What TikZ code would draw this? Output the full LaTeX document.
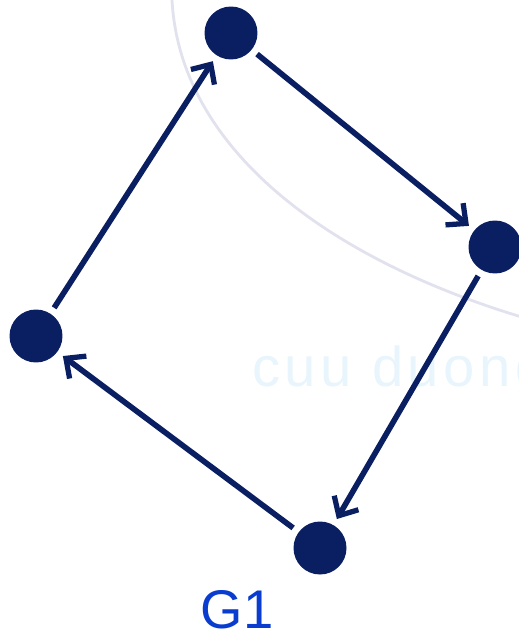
\documentclass[tikz,border=0pt]{standalone}
\usepackage{fontspec}
\setsansfont{Liberation Sans}
\usetikzlibrary{arrows.meta}
\definecolor{vertnavy}{HTML}{0A1F62}
\definecolor{labelblue}{HTML}{0A3CD0}
\definecolor{markgray}{HTML}{E2E2EE}
\definecolor{markcyan}{HTML}{E8F5FC}

\begin{document}
\begin{tikzpicture}[
    x=0.02cm, y=-0.02cm,
    >={Straight Barb[length=3mm, width=5.6mm, line width=3pt]},
    vertex/.style={
        circle, fill=vertnavy, draw=none,
        minimum size=1.06cm, inner sep=0pt, outer sep=4pt,
    },
    arr/.style={->, line width=3.2pt, color=vertnavy},
]
\useasboundingbox (0,0) rectangle (519,638);

% Watermark
\draw[markgray, line width=1.6pt] (172,0) .. controls (180,150) and (330,260) .. (525,318);
\node[markcyan, anchor=west, inner sep=0pt, font=\sffamily\fontsize{32}{32}\selectfont\addfontfeatures{LetterSpace=8}]
    (mark) at (252,372) {cuu duong};

% Nodes
\node[vertex] (top) at (231,33) {};
\node[vertex] (right) at (495,247) {};
\node[vertex] (bottom) at (320,548) {};
\node[vertex] (left) at (36,336) {};

% Cycle arrows
\draw[arr] (top) -- (right);
\draw[arr] (right) -- (bottom);
\draw[arr] (bottom) -- (left);
\draw[arr] (left) -- (top);

% Graph name
\node[labelblue, inner sep=0pt, font=\sffamily\fontsize{31}{31}\selectfont] (name) at (237,610) {G1};

\end{tikzpicture}
\end{document}
